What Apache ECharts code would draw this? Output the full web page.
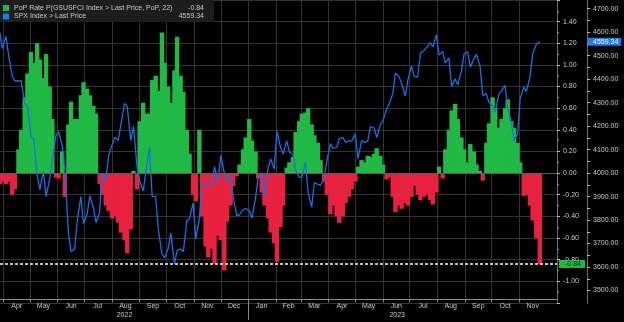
<!DOCTYPE html>
<html>
<head>
<meta charset="utf-8">
<script src="https://cdn.jsdelivr.net/npm/echarts@6/dist/echarts.min.js"></script>
<style>
  html, body { margin: 0; padding: 0; background: #000; }
  #chart { width: 624px; height: 322px; }
</style>
</head>
<body>
<div id="chart"></div>
<script>
// Sample dates (Mondays and Thursdays), grouped by month
const dateRows = [
  ['2022-03', [28, 31]],
  ['2022-04', [4, 7, 11, 14, 18, 21, 25, 28]],
  ['2022-05', [2, 5, 9, 12, 16, 19, 23, 26, 30]],
  ['2022-06', [2, 6, 9, 13, 16, 20, 23, 27, 30]],
  ['2022-07', [4, 7, 11, 14, 18, 21, 25, 28]],
  ['2022-08', [1, 4, 8, 11, 15, 18, 22, 25, 29]],
  ['2022-09', [1, 5, 8, 12, 15, 19, 22, 26, 29]],
  ['2022-10', [3, 6, 10, 13, 17, 20, 24, 27, 31]],
  ['2022-11', [3, 7, 10, 14, 17, 21, 24, 28]],
  ['2022-12', [1, 5, 8, 12, 15, 19, 22, 26, 29]],
  ['2023-01', [2, 5, 9, 12, 16, 19, 23, 26, 30]],
  ['2023-02', [2, 6, 9, 13, 16, 20, 23, 27]],
  ['2023-03', [2, 6, 9, 13, 16, 20, 23, 27, 30]],
  ['2023-04', [3, 6, 10, 13, 17, 20, 24, 27]],
  ['2023-05', [1, 4, 8, 11, 15, 18, 22, 25, 29]],
  ['2023-06', [1, 5, 8, 12, 15, 19, 22, 26, 29]],
  ['2023-07', [3, 6, 10, 13, 17, 20, 24, 27, 31]],
  ['2023-08', [3, 7, 10, 14, 17, 21, 24, 28, 31]],
  ['2023-09', [4, 7, 11, 14, 18, 21, 25, 28]],
  ['2023-10', [2, 5, 9, 12, 16, 19, 23, 26, 30]],
  ['2023-11', [2, 6, 9, 13, 16, 20, 24]]
];

// PoP rate of the GS US financial conditions index (22-day)
const popValues = [
  -0.10, -0.08,
  -0.10, -0.08, -0.20, -0.15, 0.22, 0.40, 0.70, 0.92,
  1.12, 1.02, 1.20, 1.05, 0.88, 1.10, 0.80, 0.50, -0.04,
  -0.05, 0.20, -0.22, 0.45, 0.66, 0.50, 0.50, 0.72, 0.84,
  0.78, 0.72, 0.62, 0.55, -0.10, -0.20, -0.30, -0.35,
  -0.42, -0.40, -0.46, -0.55, -0.62, -0.74, -0.52, 0.02, -0.15,
  0.48, 0.65, 0.55, 0.55, 0.86, 0.90, 0.76, 1.30, 1.02,
  0.80, 0.65, 0.95, 1.26, 0.90, 0.75, 0.40, 0.18, -0.20,
  -0.26, 0.40, -0.40, -0.68, -0.78, -0.70, -0.84, -0.58,
  -0.62, -0.90, -0.45, -0.30, -0.12, -0.03, 0.08, 0.22, 0.33,
  0.50, 0.30, 0.20, -0.05, -0.18, -0.30, -0.42, -0.55, -0.65,
  -0.82, -0.50, -0.30, 0.05, 0.10, 0.15, 0.38, 0.48,
  0.55, 0.56, 0.60, 0.45, 0.35, 0.28, 0.12, -0.08, -0.20,
  -0.38, -0.30, -0.40, -0.46, -0.40, -0.28, -0.22, -0.15,
  -0.08, 0.06, 0.12, 0.10, 0.16, 0.15, 0.18, 0.23, 0.16,
  0.08, -0.06, -0.04, -0.22, -0.36, -0.30, -0.33, -0.28, -0.30,
  -0.22, -0.12, -0.20, -0.25, -0.22, -0.20, -0.25, -0.29, -0.18,
  0.06, -0.05, 0.22, 0.40, 0.58, 0.64, 0.50, 0.33, 0.22,
  0.10, 0.27, 0.20, 0.08, 0.02, -0.07, 0.28, 0.46,
  0.70, 0.60, 0.42, 0.50, 0.60, 0.68, 0.48, 0.42, 0.28,
  0.10, -0.21, -0.20, -0.30, -0.44, -0.60, -0.84
];

// S&P 500 index, last price
const spxValues = [
  4600, 4530,
  4583, 4500, 4413, 4392, 4392, 4394, 4296, 4288,
  4155, 4147, 3991, 3930, 4008, 3900, 3974, 4058, 4158,
  4176, 4121, 4018, 3750, 3667, 3675, 3796, 3900, 3785,
  3825, 3903, 3855, 3790, 3831, 3999, 3967, 4072,
  4119, 4152, 4140, 4208, 4297, 4284, 4138, 4199, 4031,
  3967, 3924, 4006, 4110, 3901, 3900, 3758, 3655, 3640,
  3678, 3745, 3612, 3670, 3677, 3665, 3797, 3807, 3872,
  3720, 3807, 3956, 3957, 3947, 3950, 4027, 3964,
  4076, 3999, 3963, 3991, 3896, 3818, 3822, 3845, 3849,
  3840, 3808, 3893, 3983, 3999, 3899, 4020, 4060, 4018,
  4179, 4111, 4081, 4137, 4090, 4079, 4012, 3982,
  3982, 4048, 3918, 3855, 3960, 3952, 3948, 3978, 4051,
  4125, 4105, 4110, 4146, 4152, 4130, 4138, 4136,
  4167, 4061, 4138, 4131, 4137, 4198, 4193, 4151, 4205,
  4221, 4273, 4294, 4338, 4426, 4410, 4381, 4329, 4397,
  4456, 4411, 4410, 4510, 4522, 4535, 4555, 4537, 4589,
  4502, 4518, 4469, 4490, 4370, 4400, 4376, 4434, 4508,
  4516, 4451, 4487, 4505, 4454, 4330, 4337, 4300,
  4288, 4258, 4336, 4349, 4373, 4278, 4217, 4137, 4167,
  4318, 4366, 4347, 4412, 4508, 4547, 4559.34
];

// Axis ticks and labels
const monthStarts = [
  '2022-04-01', '2022-05-01', '2022-06-01', '2022-07-01', '2022-08-01', '2022-09-01',
  '2022-10-01', '2022-11-01', '2022-12-01', '2023-01-01', '2023-02-01', '2023-03-01',
  '2023-04-01', '2023-05-01', '2023-06-01', '2023-07-01', '2023-08-01', '2023-09-01',
  '2023-10-01', '2023-11-01'
];
const monthLabelDates = [
  '2022-04-16', '2022-05-16', '2022-06-16', '2022-07-16', '2022-08-16', '2022-09-16',
  '2022-10-16', '2022-11-16', '2022-12-16', '2023-01-16', '2023-02-15', '2023-03-16',
  '2023-04-16', '2023-05-16', '2023-06-16', '2023-07-16', '2023-08-16', '2023-09-16',
  '2023-10-16', '2023-11-16'
];
const monthNames = ['Jan', 'Feb', 'Mar', 'Apr', 'May', 'Jun', 'Jul', 'Aug', 'Sep', 'Oct', 'Nov', 'Dec'];
const yearLabelDates = ['2022-08-15', '2023-06-17'];
const yearBreaks = ['2023-01-01'];
const spxLabelValues = [3500, 3600, 3700, 3800, 3900, 4000, 4100, 4200, 4300, 4400, 4500, 4600, 4700];
const spxTickValues = [3500, 3550, 3600, 3650, 3700, 3750, 3800, 3850, 3900, 3950, 4000, 4050,
  4100, 4150, 4200, 4250, 4300, 4350, 4400, 4450, 4500, 4550, 4600, 4650, 4700];

const popName = 'PoP Rate P(GSUSFCI Index > Last Price, PoP, 22)';
const spxName = 'SPX Index > Last Price';

const GREEN = '#20b945';
const RED = '#e8213f';
const BLUE = '#1a6fe3';
const TAG_BLUE = '#1a7cf0';
const TEXT = '#c9c9c9';
const FONT = '"Liberation Sans", Arial, sans-serif';

// date string -> local timestamp (ms); the x axis is a plain numeric time line
function ts(s, h) {
  const p = s.split('-').map(Number);
  return new Date(p[0], p[1] - 1, p[2], h || 0, 0, 0).getTime();
}

const dates = [];
dateRows.forEach(([ym, days]) => {
  days.forEach(d => dates.push(ym + '-' + String(d).padStart(2, '0')));
});

const popData = dates.map((d, i) => [ts(d), popValues[i]]);
const spxData = dates.map((d, i) => [ts(d), spxValues[i]]);
const lastPop = popValues[popValues.length - 1];
const lastSpx = spxValues[spxValues.length - 1];

const xMin = ts('2022-03-28', 7);
const xMax = ts('2023-12-13', 7);

const chart = echarts.init(document.getElementById('chart'), null, { renderer: 'canvas' });

chart.setOption({
  backgroundColor: '#000',
  animation: false,
  textStyle: { fontFamily: FONT },
  grid: { left: 0, top: -0.9, width: 557, height: 303.8, containLabel: false },
  legend: {
    left: 0, top: 0,
    orient: 'vertical',
    backgroundColor: '#1d1d1d',
    padding: [4.5, 10, 2, 3],
    itemGap: 1.5,
    itemWidth: 6, itemHeight: 6,
    selectedMode: false,
    data: [
      { name: popName, icon: 'rect', itemStyle: { color: GREEN } },
      { name: spxName, icon: 'rect', itemStyle: { color: TAG_BLUE } }
    ],
    formatter: name => {
      const v = name === popName ? lastPop.toFixed(2) : lastSpx.toFixed(2);
      return '{n|' + name + '}{v|' + v + '}';
    },
    textStyle: {
      color: TEXT, fontSize: 7, fontFamily: FONT,
      rich: {
        n: { width: 162, fontSize: 7, color: TEXT, fontFamily: FONT },
        v: { width: 28, align: 'right', fontSize: 7, color: TEXT, fontFamily: FONT }
      }
    }
  },
  xAxis: [
    {
      type: 'value', min: xMin, max: xMax, position: 'bottom', offset: -4, scale: true,
      axisLine: { show: true, onZero: false, lineStyle: { color: '#8a8a8a', width: 1 } },
      axisTick: { show: true, length: 3, customValues: monthStarts.map(s => ts(s)), lineStyle: { color: '#8a8a8a' } },
      axisLabel: {
        show: true, customValues: monthLabelDates.map(s => ts(s)), margin: 4,
        color: TEXT, fontSize: 7, fontFamily: FONT,
        formatter: v => monthNames[new Date(v).getMonth()]
      },
      splitLine: { show: true, lineStyle: { color: '#343434', width: 1 } }
    },
    {
      type: 'value', min: xMin, max: xMax, position: 'bottom', offset: -4, scale: true,
      axisLine: { show: false, onZero: false },
      axisTick: { show: true, length: 21, customValues: yearBreaks.map(s => ts(s)), lineStyle: { color: '#8a8a8a' } },
      axisLabel: {
        show: true, customValues: yearLabelDates.map(s => ts(s)), margin: 13,
        color: TEXT, fontSize: 7, fontFamily: FONT,
        formatter: v => String(new Date(v).getFullYear())
      },
      splitLine: { show: false }
    }
  ],
  yAxis: [
    {
      type: 'value', position: 'right', min: -1.2, max: 1.6, interval: 0.2,
      axisLine: { show: true, lineStyle: { color: '#6e6e6e' } },
      axisTick: { show: true, length: 3, lineStyle: { color: '#bdbdbd' } },
      minorTick: { show: true, splitNumber: 2, length: 2, lineStyle: { color: '#8a8a8a' } },
      axisLabel: {
        margin: 6, color: TEXT, fontSize: 7, fontFamily: FONT,
        formatter: v => (v < -1.1 || v > 1.5) ? '' : v.toFixed(2)
      },
      splitLine: { show: true, lineStyle: { color: '#343434', width: 1 } }
    },
    {
      type: 'value', position: 'right', offset: 30, min: 3447.4, max: 4736.8,
      axisLine: { show: true, lineStyle: { color: '#6e6e6e' } },
      axisTick: { show: true, length: 3, customValues: spxTickValues, lineStyle: { color: '#bdbdbd' } },
      axisLabel: {
        customValues: spxLabelValues, margin: 6, color: TEXT, fontSize: 7, fontFamily: FONT,
        formatter: v => v.toFixed(2)
      },
      splitLine: { show: false }
    }
  ],
  series: [
    {
      name: popName,
      type: 'bar',
      xAxisIndex: 0, yAxisIndex: 0,
      barWidth: 4.4,
      data: popData,
      itemStyle: { color: p => (p.value[1] >= 0 ? GREEN : RED) },
      markLine: {
        silent: true, symbol: 'none', animation: false,
        data: [
          { yAxis: 0, lineStyle: { color: '#5c5c5c', type: 'solid', width: 1 }, label: { show: false } },
          {
            yAxis: lastPop,
            lineStyle: { color: '#ffffff', type: [3, 2], width: 1.6 },
            label: {
              show: true, position: 'end', distance: 2,
              formatter: lastPop.toFixed(2),
              backgroundColor: GREEN, color: '#062a0e',
              padding: [1, 4, 0, 6], fontSize: 7, fontFamily: FONT
            }
          }
        ]
      }
    },
    {
      name: spxName,
      type: 'line',
      xAxisIndex: 0, yAxisIndex: 1,
      data: spxData,
      showSymbol: false, symbol: 'none',
      lineStyle: { color: BLUE, width: 1.3 },
      itemStyle: { color: BLUE },
      z: 3,
      markLine: {
        silent: true, symbol: 'none', animation: false,
        data: [{
          yAxis: lastSpx,
          lineStyle: { color: 'rgba(0,0,0,0)', width: 0 },
          label: {
            show: true, position: 'end', distance: 31,
            formatter: lastSpx.toFixed(2),
            backgroundColor: TAG_BLUE, color: '#ffffff', opacity: 1,
            padding: [1, 3, 0, 5], fontSize: 7, fontFamily: FONT
          }
        }]
      }
    }
  ]
});
</script>
</body>
</html>
